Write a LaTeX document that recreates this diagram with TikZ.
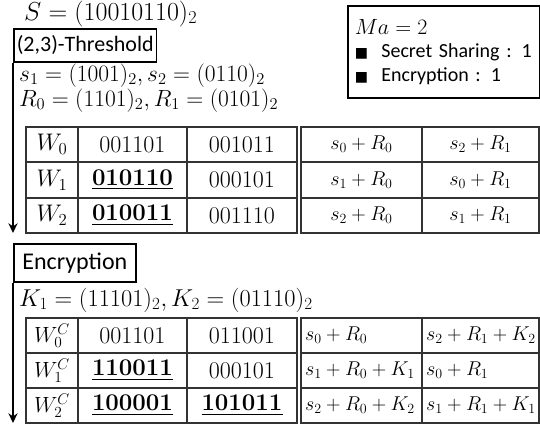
\RequirePackage{fix-cm}
\documentclass[tikz,border=0pt]{standalone}
\usepackage[no-math]{fontspec}
\setmainfont{Carlito}
\newfontfamily\symfont{DejaVu Sans}
\usepackage{amsmath}
\usetikzlibrary{arrows.meta,positioning}
\tikzset{%
  >={Stealth[width=3.2mm,length=3.4mm]},
  % boxes of the two stages
  stage/.style = {rectangle, draw=black, line width=1.6pt,
    anchor=north west, minimum width=122pt, inner xsep=3pt,
    font=\fontsize{22}{24}\selectfont},
  legendbox/.style = {rectangle, draw=black, line width=1.6pt,
    anchor=north west, minimum height=92pt, inner xsep=7pt,
    text width=178pt, align=left,
    font=\fontsize{20}{23.5}\selectfont},
  info/.style = {anchor=base west, inner sep=0pt,
    font=\fontsize{23.5}{26}\selectfont},
  cell/.style = {inner sep=0pt, font=\fontsize{24}{27}\selectfont},
  sumcell/.style = {cell, anchor=west, font=\fontsize{20}{24}\selectfont},
  gridline/.style = {draw=black!80, line width=1.1pt},
  flow/.style = {->, line width=1.8pt},
}
\begin{document}
\begin{tikzpicture}[x=1pt, y=-1pt]
  \useasboundingbox (0,0) rectangle (540,426);
  % Specification of nodes (position, etc.)
  \node(secret)[info, font=\fontsize{26}{28}\selectfont] at (24,20) {$S = (10010110)_2$};
  \node(thr)[stage, minimum height=33pt] at (13,28) {(2,3)-Threshold};
  \node(shares)[info] at (19,81) {$s_1 = (1001)_2, s_2 = (0110)_2$};
  \node(rands)[info] at (19,106) {$R_0 = (1101)_2, R_1 = (0101)_2$};
  \node(legend)[legendbox] at (347,5) {
    {\fontsize{22}{23.5}\selectfont$Ma = 2$} \\
    {\symfont\fontsize{14}{14}\selectfont ■}\ \ Secret Sharing : 1 \\
    {\symfont\fontsize{14}{14}\selectfont ■}\ \ Encryption : 1
  };
  % first table
  \draw[gridline] (26,127) rectangle (297,233);
  \draw[gridline] (301,127) rectangle (539,233);
  \foreach \y in {162,198} {
    \draw[gridline] (26,\y) -- (297,\y);
    \draw[gridline] (301,\y) -- (539,\y);
  }
  \draw[gridline] (78,127) -- (78,233);
  \draw[gridline] (187,127) -- (187,233);
  \draw[gridline] (422,127) -- (422,233);
  \foreach \y/\a/\b/\c/\d [count=\i from 0] in {
      144.5/001101/001011/s_0 + R_0/s_2 + R_1,
      180/\underline{\mathbf{010110}}/000101/s_1 + R_0/s_0 + R_1,
      215.5/\underline{\mathbf{010011}}/001110/s_2 + R_0/s_1 + R_1} {
    \node(w\i)[cell] at (52,\y) {$W_\i$};
    \node(wa\i)[cell] at (132.5,\y) {$\a$};
    \node(wb\i)[cell] at (242,\y) {$\b$};
    \node(wc\i)[cell, font=\fontsize{20}{24}\selectfont] at (361.5,\y) {$\c$};
    \node(wd\i)[cell, font=\fontsize{20}{24}\selectfont] at (480.5,\y) {$\d$};
  }
  \coordinate(thrEnd) at (13,233);
  \draw[flow](thr.south west) -- (thrEnd);
  % encryption stage
  \node(enc)[stage, minimum height=38pt, font=\fontsize{24}{26}\selectfont] at (13,243) {Encryption};
  \node(keys)[info, font=\fontsize{24.4}{26}\selectfont] at (19,306) {$K_1 = (11101)_2, K_2 = (01110)_2$};
  \draw[gridline] (26,318) rectangle (297,423);
  \draw[gridline] (301,318) rectangle (539,423);
  \foreach \y in {353,388} {
    \draw[gridline] (26,\y) -- (297,\y);
    \draw[gridline] (301,\y) -- (539,\y);
  }
  \draw[gridline] (78,318) -- (78,423);
  \draw[gridline] (187,318) -- (187,423);
  \draw[gridline] (422,318) -- (422,423);
  \foreach \y/\a/\b/\c/\d [count=\i from 0] in {
      335.5/001101/011001/s_0 + R_0/s_2 + R_1 + K_2,
      370.5/\underline{\mathbf{110011}}/000101/s_1 + R_0 + K_1/s_0 + R_1,
      405.5/\underline{\mathbf{100001}}/\underline{\mathbf{101011}}/s_2 + R_0 + K_2/s_1 + R_1 + K_1} {
    \node(c\i)[cell, font=\fontsize{22}{24}\selectfont] at (52,\y) {$W^C_\i$};
    \node(ca\i)[cell] at (132.5,\y) {$\a$};
    \node(cb\i)[cell] at (242,\y) {$\b$};
    \node(cc\i)[sumcell] at (305,\y) {$\c$};
    \node(cd\i)[sumcell] at (426,\y) {$\d$};
  }
  \coordinate(encEnd) at (13,423);
  \draw[flow](enc.south west) -- (encEnd);
\end{tikzpicture}
\end{document}
